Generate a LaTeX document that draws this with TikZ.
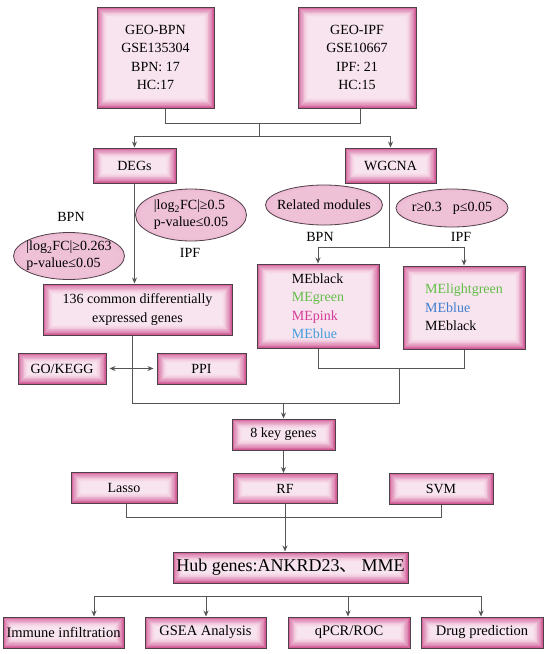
\documentclass[tikz,border=0pt]{standalone}
\usepackage{fontspec}
\setmainfont{Liberation Serif}
\newfontfamily\cjk{Noto Sans CJK SC}
\usetikzlibrary{shapes.geometric,arrows.meta}
\definecolor{pinkdark}{RGB}{210,92,150}
\definecolor{pinklight}{RGB}{248,228,238}
\colorlet{ellc}{pinklight!74!pinkdark}
\colorlet{ellm}{pinklight!45!pinkdark}
\colorlet{elln}{pinklight!12!pinkdark}
\definecolor{boxline}{RGB}{80,64,72}
\definecolor{wirecol}{RGB}{85,85,85}
\definecolor{megreen}{RGB}{98,190,72}
\definecolor{mepink}{RGB}{214,58,150}
\definecolor{meblue}{RGB}{66,156,222}
\definecolor{meblueb}{RGB}{64,126,208}
\pgfdeclareradialshading{ellshade}{\pgfpoint{0bp}{0bp}}{color(0bp)=(ellc); color(22bp)=(ellc); color(37bp)=(ellm); color(46bp)=(elln); color(50bp)=(pinkdark)}
\tikzset{
  gbox/.style={draw=boxline, line width=1pt, inner sep=0pt, align=center,
    path picture={
      \foreach \k in {0,...,12}{
        \pgfmathtruncatemacro{\pp}{100*(1-\k/12)^1.4}
        \fill[pinkdark!\pp!pinklight]
          ([xshift=\k*0.8pt,yshift=\k*0.8pt]path picture bounding box.south west)
          rectangle
          ([xshift=-\k*0.8pt,yshift=-\k*0.8pt]path picture bounding box.north east);
      }}},
  ell/.style={ellipse, draw=boxline, line width=0.8pt, shade, shading=ellshade, inner sep=0pt},
  etext/.style={inner sep=0pt, align=left, font=\fontsize{14}{17}\selectfont},
  lbl/.style={inner sep=1pt},
  wire/.style={draw=wirecol, line width=0.9pt},
  arr/.style={wire, -{Stealth[length=6pt,width=5pt]}},
  darr/.style={wire, {Stealth[length=6pt,width=5pt]}-{Stealth[length=6pt,width=5pt]}},
}
\begin{document}
\begin{tikzpicture}[x=1pt,y=-1pt,font=\fontsize{14}{18.5}\selectfont]
\fill[white] (0,0) rectangle (550,654);
\useasboundingbox (0,0) rectangle (550,654);

% top data sets
\node[gbox, minimum width=117pt, minimum height=101pt] (bpn) at (155.5,57.5) {GEO-BPN\\GSE135304\\BPN: 17\\HC:17};
\node[gbox, minimum width=118pt, minimum height=101pt] (ipf) at (357,57.5) {GEO-IPF\\GSE10667\\IPF: 21\\HC:15};

\node[gbox, minimum width=83pt, minimum height=35pt] (degs) at (134.5,165.5) {DEGs};
\node[gbox, minimum width=91pt, minimum height=35pt] (wgcna) at (390.5,165.5) {WGCNA};

% thresholds
\node[ell, minimum width=111pt, minimum height=52pt] (ipfcut) at (191,215) {};
\node[etext] (ipfcuttext) at (ipfcut.center) {|log\textsubscript{2}FC|≥0.5\\p-value≤0.05};
\node[ell, minimum width=111pt, minimum height=47pt] (bpncut) at (69,256) {};
\node[etext] (bpncuttext) at (bpncut.center) {|log\textsubscript{2}FC|≥0.263\\p-value≤0.05};
\node[lbl] (lbpna) at (71,217) {BPN};
\node[lbl] (lipfa) at (190,253) {IPF};
\node[ell, minimum width=117pt, minimum height=40pt] (relmod) at (324,205) {};
\node[etext] (relmodtext) at (relmod.center) {Related modules};
\node[ell, minimum width=112pt, minimum height=38pt] (rcut) at (452,208) {};
\node[etext] (rcuttext) at (rcut.center) {r≥0.3\hspace{11pt}p≤0.05};
\node[lbl] (lbpnb) at (320,237) {BPN};
\node[lbl] (lipfb) at (461,237) {IPF};

\node[gbox, minimum width=189pt, minimum height=51pt] (common) at (137.5,309.5) {136 common differentially\\expressed genes};
\node[gbox, align=left, minimum width=122pt, minimum height=84pt] (modl) at (318,306) {MEblack\\\textcolor{megreen}{MEgreen}\\\textcolor{mepink}{MEpink}\\\textcolor{meblue}{MEblue}};
\node[gbox, align=left, minimum width=122pt, minimum height=83pt] (modr) at (464,307.5) {\textcolor{megreen}{MElightgreen}\\\textcolor{meblueb}{MEblue}\\MEblack};

\node[gbox, minimum width=88pt, minimum height=31pt] (gokegg) at (62,368.5) {GO/KEGG};
\node[gbox, minimum width=89pt, minimum height=31pt] (ppi) at (201.5,368.5) {PPI};
\node[gbox, minimum width=103pt, minimum height=31pt] (key8) at (283.5,434.5) {8 key genes};

\node[gbox, minimum width=106pt, minimum height=31pt] (lasso) at (124,487.5) {Lasso};
\node[gbox, minimum width=104pt, minimum height=30pt] (rf) at (285,488.5) {RF};
\node[gbox, minimum width=104pt, minimum height=31pt] (svm) at (441,488.5) {SVM};

\node[gbox, minimum width=235pt, minimum height=31pt, font=\fontsize{18}{22}\selectfont] (hub) at (290.5,567.5) {Hub genes:ANKRD23{\cjk 、}\hspace{4pt}MME};

\node[gbox, minimum width=121pt, minimum height=31pt, font=\fontsize{14.5}{18}\selectfont] (immune) at (63.5,632.5) {Immune infiltration};
\node[gbox, minimum width=121pt, minimum height=31pt, font=\fontsize{14.5}{18}\selectfont] (gsea) at (205.5,632.5) {GSEA Analysis};
\node[gbox, minimum width=122pt, minimum height=31pt, font=\fontsize{14.5}{18}\selectfont] (qpcr) at (349,632.5) {qPCR/ROC};
\node[gbox, minimum width=122pt, minimum height=31pt, font=\fontsize{14.5}{18}\selectfont] (drug) at (482,632.5) {Drug prediction};

% connectors: top
\coordinate (ta) at (165,123);
\coordinate (tb) at (360,123);
\coordinate (tm) at (259,123);
\coordinate (tn) at (259,136);
\draw[wire] (ta |- bpn.south) -- (ta) -- (tb) -- (tb |- ipf.south);
\draw[wire] (tm) -- (tn);
\draw[arr] (tn) -| (degs.north);
\draw[arr] (tn) -| (wgcna.north);

% DEGs to common
\draw[arr] (degs.south) -- (degs.south |- common.north);

% WGCNA to modules
\coordinate (wa) at (389,247);
\draw[wire] (wgcna.south -| wa) -- (wa);
\draw[arr] (wa) -| (modl.north);
\draw[arr] (wa) -| (modr.north);

% modules + common to key genes
\coordinate (ma) at (399,368);
\coordinate (mb) at (399,403);
\coordinate (ca) at (132,403);
\draw[wire] (modl.south) -- (modl.south |- ma) -- (modr.south |- ma) -- (modr.south);
\draw[wire] (ma) -- (mb) -- (ca) -- (ca |- common.south);
\draw[arr] (key8.north |- mb) -- (key8.north);

% GO/KEGG <-> PPI
\draw[darr, shorten <=3pt, shorten >=3pt] (gokegg.east) -- (gokegg.east -| ppi.west);

% key genes to RF
\draw[arr] (key8.south) -- (key8.south |- rf.north);

% machine learning to hub
\coordinate (la) at (126,517);
\draw[wire] (la |- lasso.south) -- (la) -- (svm.south |- la) -- (svm.south);
\draw[arr] (rf.south) -- (rf.south |- hub.north);

% hub to analyses
\coordinate (da) at (94,596);
\coordinate (db) at (206,596);
\coordinate (dc) at (348,596);
\coordinate (dd) at (481,596);
\draw[wire] (da) -- (dd);
\draw[arr] (da) -- (da |- immune.north);
\draw[arr] (db) -- (db |- gsea.north);
\draw[arr] (dc) -- (dc |- qpcr.north);
\draw[arr] (dd) -- (dd |- drug.north);
\end{tikzpicture}
\end{document}
